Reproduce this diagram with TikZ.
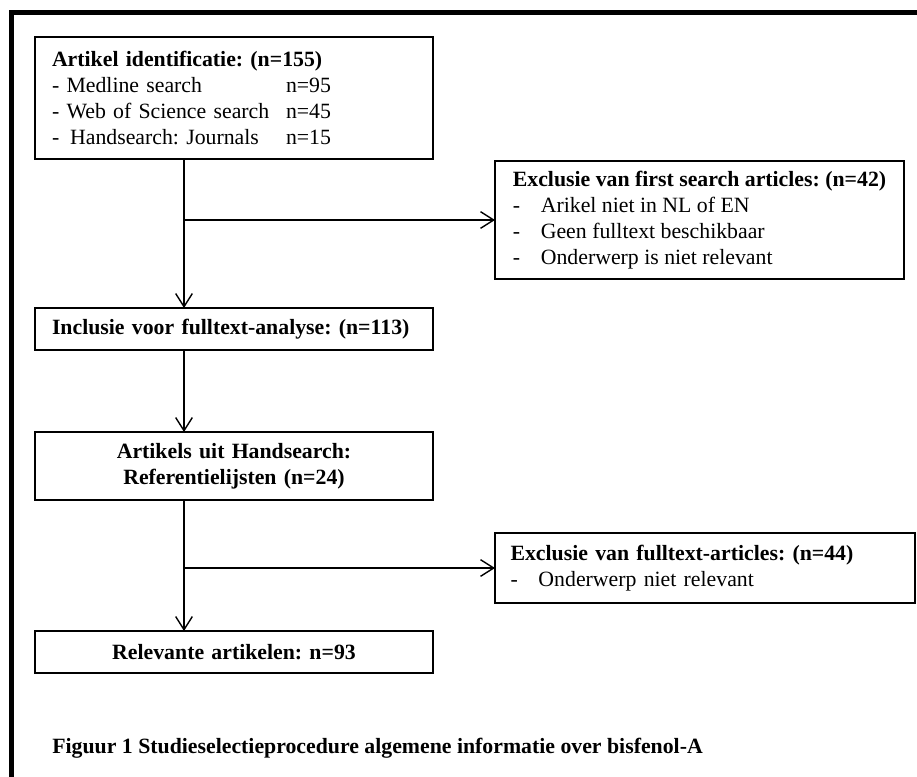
\documentclass[tikz,border=0pt]{standalone}
\usepackage{fontspec}
\setmainfont{Liberation Serif}
\usetikzlibrary{arrows.meta, positioning}

\newcommand{\srcrow}[2]{\makebox[4.68cm][l]{#1}#2}
\newcommand{\exitem}[1]{\makebox[0.56cm][l]{-}#1}

\begin{document}
\begin{tikzpicture}[
  font=\fontsize{12.4pt}{14.8pt}\selectfont\frenchspacing,
  >={Straight Barb[length=7.5pt, width=9.5pt]},
  flow/.style={->, line width=0.8pt, draw=black},
  stage/.style={draw=black, line width=0.9pt, minimum width=79.6mm, text width=72.8mm,
    inner xsep=3.4mm, inner ysep=0pt, outer sep=0pt, align=left},
  exclbox/.style={draw=black, line width=0.9pt, inner xsep=3.1mm, inner ysep=0pt,
    outer sep=0pt, align=left},
  frame/.style={line width=3.4pt, draw=black},
  caption/.style={font=\fontsize{12.4pt}{14.8pt}\selectfont\frenchspacing\bfseries, inner sep=0pt}
]

  \useasboundingbox (0,0) rectangle (18.34,-15.52);
  \clip (0,0) rectangle (18.34,-15.52);

  % --- Kader ---
  \draw[frame] (0.23,-16) -- (0.23,-0.25) -- (19,-0.25);

  % --- Hoofdlijn (links) ---
  \node[stage, anchor=north west, minimum height=24.4mm] (ident) at (0.70,-0.74)
    {\textbf{Artikel identificatie: (n=155)}\\
     \srcrow{- Medline search}{n=95}\\
     \srcrow{- Web of Science search}{n=45}\\
     \srcrow{-\ \,Handsearch: Journals}{n=15}};
  \node[stage, below=29.8mm of ident, minimum height=8.4mm] (inclusie)
    {\textbf{Inclusie voor fulltext-analyse: (n=113)}};
  \node[stage, below=16.4mm of inclusie, minimum height=13.6mm, align=center] (handsearch)
    {\textbf{Artikels uit Handsearch:}\\\textbf{Referentielijsten (n=24)}};
  \node[stage, below=26.2mm of handsearch, minimum height=8.4mm, align=center] (relevant)
    {\textbf{Relevante artikelen: n=93}};

  % --- Exclusies (rechts) ---
  \node[exclbox, right=12.4mm of ident, yshift=-24.4mm, minimum width=81.8mm,
    minimum height=23.6mm] (exclfirst)
    {\textbf{Exclusie van first search articles: (n=42)}\\
     \exitem{Arikel niet in NL of EN}\\
     \exitem{Geen fulltext beschikbaar}\\
     \exitem{Onderwerp is niet relevant}};
  \node[exclbox, right=12.4mm of handsearch, yshift=-20.4mm, minimum width=84mm,
    text width=77.8mm, minimum height=14mm] (exclfull)
    {\textbf{Exclusie van fulltext-articles: (n=44)}\\
     \exitem{Onderwerp niet relevant}};

  % --- Onderschrift ---
  \node[caption, anchor=west] (caption) at ([xshift=3.4mm, yshift=-15mm]relevant.south west)
    {Figuur 1 Studieselectieprocedure algemene informatie over bisfenol-A};

  % --- Pijlen ---
  \coordinate (spine) at ([xshift=29.8mm]ident.south west);
  \draw[flow] (ident.south -| spine) -- (inclusie.north -| spine);
  \draw[flow] (exclfirst.west -| spine) -- (exclfirst.west);
  \draw[flow] (inclusie.south -| spine) -- (handsearch.north -| spine);
  \draw[flow] (handsearch.south -| spine) -- (relevant.north -| spine);
  \draw[flow] (exclfull.west -| spine) -- (exclfull.west);

\end{tikzpicture}
\end{document}
